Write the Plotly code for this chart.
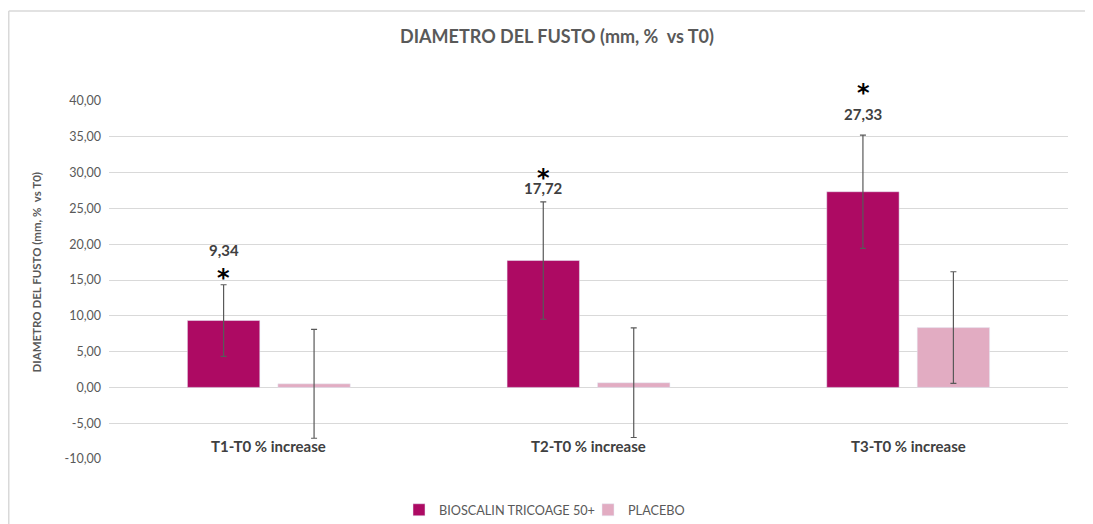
import plotly.graph_objects as go

categories = ["T1-T0 % increase", "T2-T0 % increase", "T3-T0 % increase"]
bioscalin = [9.34, 17.72, 27.33]
bioscalin_err = [5.0, 8.2, 7.9]
placebo = [0.5, 0.65, 8.35]
placebo_err = [7.6, 7.65, 7.8]
value_labels = ["9,34", "17,72", "27,33"]
star_marks = ["*", "*", "*"]
y_tick_vals = [-10, -5, 0, 5, 10, 15, 20, 25, 30, 35, 40]
y_tick_text = ["-10,00", "-5,00", "0,00", "5,00", "10,00", "15,00", "20,00",
               "25,00", "30,00", "35,00", "40,00"]

FONT = "Lato"
GRAY = "#595959"

# page body has an 8px margin, so the figure is drawn 8px smaller
W, H = 1085, 516
L, T = 101, 93
pw, ph = 959, 358
R, B = W - L - pw, H - T - ph

fig = go.Figure()
fig.add_trace(go.Bar(
    name="BIOSCALIN TRICOAGE 50+", x=categories, y=bioscalin,
    marker=dict(color="#AD0A63"),
    error_y=dict(type="data", array=bioscalin_err, color="#595959", thickness=1.2, width=3),
))
fig.add_trace(go.Bar(
    name="PLACEBO", x=categories, y=placebo,
    marker=dict(color="#E2ACC2"),
    error_y=dict(type="data", array=placebo_err, color="#595959", thickness=1.2, width=3),
))

# pixel offsets above error-bar tops for labels/stars
label_shift = [35, 14, 21]
star_shift = [11, 28, 46]
annotations = []
for i, c in enumerate(categories):
    top = bioscalin[i] + bioscalin_err[i]
    annotations.append(dict(x=c, y=top, xref="x", yref="y", text="<b>%s</b>" % value_labels[i],
                            showarrow=False, xshift=-45, yshift=label_shift[i],
                            font=dict(family=FONT, size=15, color="#404040")))
    annotations.append(dict(x=c, y=top, xref="x", yref="y", text="<b>%s</b>" % star_marks[i],
                            showarrow=False, xshift=-45, yshift=star_shift[i] - 4,
                            font=dict(family="DejaVu Sans", size=24, color="#000000")))
    annotations.append(dict(x=c, y=-8.2, xref="x", yref="y", text="<b>%s</b>" % c,
                            showarrow=False, font=dict(family=FONT, size=15, color="#404040")))

annotations.append(dict(x=(27.5 - L) / pw, y=(T + ph - 264) / ph, xref="paper", yref="paper",
                        xanchor="center", yanchor="middle", textangle=-90,
                        text="<b>DIAMETRO DEL FUSTO (mm, %  vs T0)</b>", showarrow=False,
                        font=dict(family=FONT, size=11.5, color=GRAY)))

top_y = (T + ph - 3) / ph
left_x = (0.75 - L) / pw

fig.update_layout(
    width=W, height=H,
    margin=dict(l=L, r=R, t=T, b=B, autoexpand=False),
    paper_bgcolor="white", plot_bgcolor="white",
    title=dict(text="<b>DIAMETRO DEL FUSTO (mm, %  vs T0)</b>", x=549 / W, xanchor="center",
               y=1 - 29 / H, yanchor="middle",
               font=dict(family=FONT, size=18, color=GRAY)),
    barmode="group", bargap=0.434, bargroupgap=0.2,
    showlegend=True,
    legend=dict(orientation="h", x=(580 - L) / pw, xanchor="center", y=-(502 - (T + ph)) / ph,
                yanchor="middle", font=dict(family=FONT, size=12.7, color=GRAY),
                itemwidth=30, traceorder="normal", entrywidth=144, entrywidthmode="pixels"),
    annotations=annotations,
    xaxis=dict(showticklabels=False, showgrid=False, zeroline=False, showline=False, ticks=""),
    yaxis=dict(range=[-10, 40], tickmode="array", tickvals=y_tick_vals, ticktext=y_tick_text,
               showgrid=True, gridcolor="#D9D9D9", gridwidth=1,
               zeroline=True, zerolinecolor="#D9D9D9", zerolinewidth=1,
               showline=False, ticks="", ticklabelstandoff=7,
               tickfont=dict(family=FONT, size=12.5, color=GRAY)),
    shapes=[
        dict(type="line", xref="paper", yref="paper", x0=left_x, x1=left_x,
             y0=top_y, y1=-0.3, line=dict(color="#D9D9D9", width=1.5)),
        dict(type="line", xref="paper", yref="paper", x0=left_x, x1=(W - L) / pw,
             y0=top_y, y1=top_y, line=dict(color="#D9D9D9", width=1.5)),
    ],
)

fig.write_html("out.html")
